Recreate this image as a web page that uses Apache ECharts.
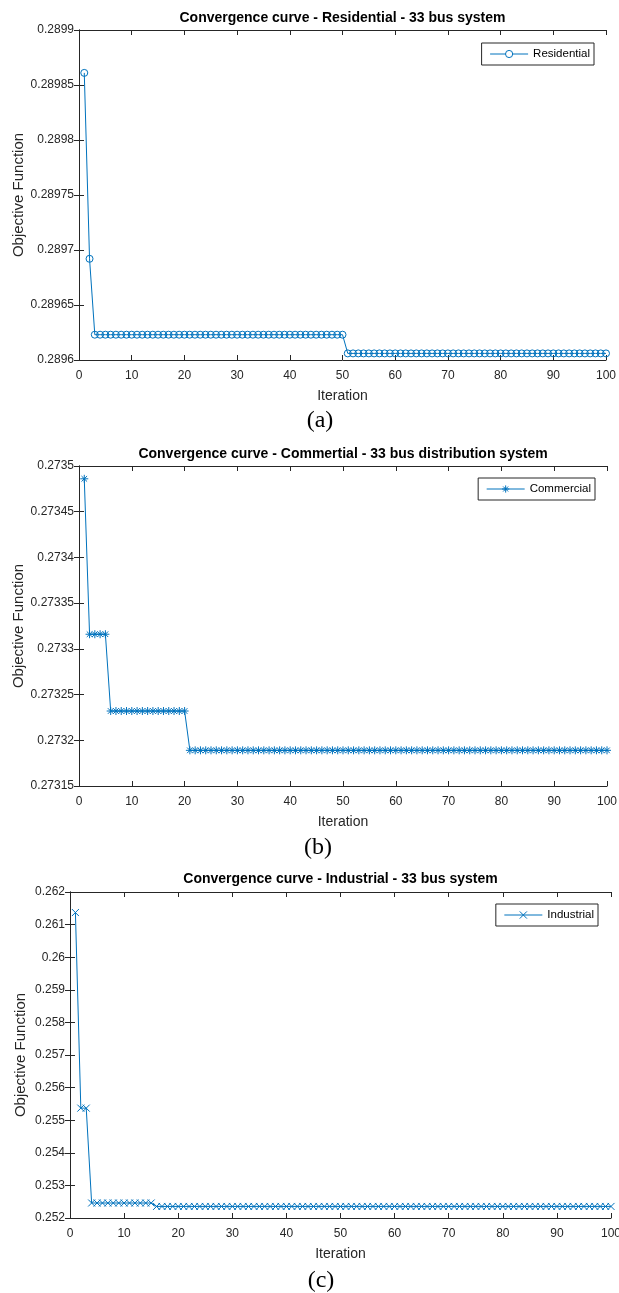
<!DOCTYPE html>
<html lang="en">
<head>
    <meta charset="UTF-8">
    <title>Convergence curves - 33 bus system</title>
    <script src="https://cdn.jsdelivr.net/npm/echarts@6/dist/echarts.min.js"></script>
    <style>
        html, body { margin: 0; padding: 0; background: #fff; }
    </style>
</head>
<body>
<div id="main" style="width: 619px;height: 1293px;"></div>
<script>
    // iteration numbers 1..100
    var iterations = [
        1, 2, 3, 4, 5, 6, 7, 8, 9, 10,
        11, 12, 13, 14, 15, 16, 17, 18, 19, 20,
        21, 22, 23, 24, 25, 26, 27, 28, 29, 30,
        31, 32, 33, 34, 35, 36, 37, 38, 39, 40,
        41, 42, 43, 44, 45, 46, 47, 48, 49, 50,
        51, 52, 53, 54, 55, 56, 57, 58, 59, 60,
        61, 62, 63, 64, 65, 66, 67, 68, 69, 70,
        71, 72, 73, 74, 75, 76, 77, 78, 79, 80,
        81, 82, 83, 84, 85, 86, 87, 88, 89, 90,
        91, 92, 93, 94, 95, 96, 97, 98, 99, 100
    ]

    var residential = [
        0.289861, 0.289692, 0.289623, 0.289623, 0.289623, 0.289623, 0.289623, 0.289623, 0.289623, 0.289623,
        0.289623, 0.289623, 0.289623, 0.289623, 0.289623, 0.289623, 0.289623, 0.289623, 0.289623, 0.289623,
        0.289623, 0.289623, 0.289623, 0.289623, 0.289623, 0.289623, 0.289623, 0.289623, 0.289623, 0.289623,
        0.289623, 0.289623, 0.289623, 0.289623, 0.289623, 0.289623, 0.289623, 0.289623, 0.289623, 0.289623,
        0.289623, 0.289623, 0.289623, 0.289623, 0.289623, 0.289623, 0.289623, 0.289623, 0.289623, 0.289623,
        0.289606, 0.289606, 0.289606, 0.289606, 0.289606, 0.289606, 0.289606, 0.289606, 0.289606, 0.289606,
        0.289606, 0.289606, 0.289606, 0.289606, 0.289606, 0.289606, 0.289606, 0.289606, 0.289606, 0.289606,
        0.289606, 0.289606, 0.289606, 0.289606, 0.289606, 0.289606, 0.289606, 0.289606, 0.289606, 0.289606,
        0.289606, 0.289606, 0.289606, 0.289606, 0.289606, 0.289606, 0.289606, 0.289606, 0.289606, 0.289606,
        0.289606, 0.289606, 0.289606, 0.289606, 0.289606, 0.289606, 0.289606, 0.289606, 0.289606, 0.289606
    ]

    var commercial = [
        0.273486, 0.273316, 0.273316, 0.273316, 0.273316, 0.273232, 0.273232, 0.273232, 0.273232, 0.273232,
        0.273232, 0.273232, 0.273232, 0.273232, 0.273232, 0.273232, 0.273232, 0.273232, 0.273232, 0.273232,
        0.273189, 0.273189, 0.273189, 0.273189, 0.273189, 0.273189, 0.273189, 0.273189, 0.273189, 0.273189,
        0.273189, 0.273189, 0.273189, 0.273189, 0.273189, 0.273189, 0.273189, 0.273189, 0.273189, 0.273189,
        0.273189, 0.273189, 0.273189, 0.273189, 0.273189, 0.273189, 0.273189, 0.273189, 0.273189, 0.273189,
        0.273189, 0.273189, 0.273189, 0.273189, 0.273189, 0.273189, 0.273189, 0.273189, 0.273189, 0.273189,
        0.273189, 0.273189, 0.273189, 0.273189, 0.273189, 0.273189, 0.273189, 0.273189, 0.273189, 0.273189,
        0.273189, 0.273189, 0.273189, 0.273189, 0.273189, 0.273189, 0.273189, 0.273189, 0.273189, 0.273189,
        0.273189, 0.273189, 0.273189, 0.273189, 0.273189, 0.273189, 0.273189, 0.273189, 0.273189, 0.273189,
        0.273189, 0.273189, 0.273189, 0.273189, 0.273189, 0.273189, 0.273189, 0.273189, 0.273189, 0.273189
    ]

    var industrial = [
        0.26137, 0.25537, 0.25537, 0.25246, 0.25246, 0.25246, 0.25246, 0.25246, 0.25246, 0.25246,
        0.25246, 0.25246, 0.25246, 0.25246, 0.25246, 0.252355, 0.252355, 0.252355, 0.252355, 0.252355,
        0.252355, 0.252355, 0.252355, 0.252355, 0.252355, 0.252355, 0.252355, 0.252355, 0.252355, 0.252355,
        0.252355, 0.252355, 0.252355, 0.252355, 0.252355, 0.252355, 0.252355, 0.252355, 0.252355, 0.252355,
        0.252355, 0.252355, 0.252355, 0.252355, 0.252355, 0.252355, 0.252355, 0.252355, 0.252355, 0.252355,
        0.252355, 0.252355, 0.252355, 0.252355, 0.252355, 0.252355, 0.252355, 0.252355, 0.252355, 0.252355,
        0.252355, 0.252355, 0.252355, 0.252355, 0.252355, 0.252355, 0.252355, 0.252355, 0.252355, 0.252355,
        0.252355, 0.252355, 0.252355, 0.252355, 0.252355, 0.252355, 0.252355, 0.252355, 0.252355, 0.252355,
        0.252355, 0.252355, 0.252355, 0.252355, 0.252355, 0.252355, 0.252355, 0.252355, 0.252355, 0.252355,
        0.252355, 0.252355, 0.252355, 0.252355, 0.252355, 0.252355, 0.252355, 0.252355, 0.252355, 0.252355
    ]

    var titles = [
        'Convergence curve - Residential - 33 bus system',
        'Convergence curve - Commertial - 33 bus distribution system',
        'Convergence curve - Industrial - 33 bus system'
    ]
    var names = ['Residential', 'Commercial', 'Industrial']
    var panelLabels = ['(a)', '(b)', '(c)']
    var yMin = [0.2896, 0.27315, 0.252]
    var yMax = [0.2899, 0.2735, 0.262]
    var yStep = [0.00005, 0.00005, 0.001]

    var blue = '#0072BD'
    var axisColor = '#262626'
    var font = 'Arial, "Liberation Sans", Helvetica, sans-serif'

    // MATLAB-like markers: 'o', '*', 'x'
    var symbols = [
        'circle',
        'path://M5,0L5,10M0,5L10,5M1.5,1.5L8.5,8.5M1.5,8.5L8.5,1.5',
        'path://M0,0L10,10M0,10L10,0'
    ]
    var symbolSizes = [7, 8, 7]

    var grids = [
        {left: 79, right: 13, top: 30, height: 330, outerBoundsMode: 'none'},
        {left: 79, right: 12, top: 466, height: 320, outerBoundsMode: 'none'},
        {left: 70, right: 8, top: 892, height: 326, outerBoundsMode: 'none'}
    ]
    var titleTops = [11, 447, 872]
    var labelTops = [409, 836, 1269]
    var labelLefts = [320, 318, 321]
    var legendPos = [
        {right: 25, top: 43},
        {right: 24, top: 478},
        {right: 21, top: 904}
    ]
    var yNameGap = [53, 53, 42]

    function fmt(v) {
        return String(parseFloat(v.toFixed(6)))
    }

    var seriesData = [residential, commercial, industrial]

    var option = {
        animation: false,
        backgroundColor: '#fff',
        title: [],
        legend: [],
        grid: grids,
        xAxis: [],
        yAxis: [],
        series: []
    }

    for (var i = 0; i < 3; i++) {
        var g = grids[i]
        var cx = g.left + (619 - g.left - g.right) / 2
        option.title.push({
            text: titles[i],
            left: cx,
            top: titleTops[i],
            padding: 0,
            textAlign: 'center',
            textStyle: {fontFamily: font, fontSize: 14, fontWeight: 'bold', color: '#000'}
        })
        option.title.push({
            text: panelLabels[i],
            left: labelLefts[i],
            top: labelTops[i],
            padding: 0,
            textAlign: 'center',
            textStyle: {fontFamily: '"Liberation Serif", "Times New Roman", serif', fontSize: 24, fontWeight: 'normal', color: '#000'}
        })
        option.legend.push({
            data: [names[i]],
            right: legendPos[i].right,
            top: legendPos[i].top,
            orient: 'vertical',
            padding: [5, 4, 5, 8],
            borderColor: axisColor,
            borderWidth: 1,
            itemWidth: 38,
            itemHeight: 9,
            itemGap: 5,
            itemStyle: {color: '#fff', borderColor: blue, borderWidth: 1},
            lineStyle: {color: blue, width: 1},
            textStyle: {fontFamily: font, fontSize: 11.5, color: '#000'}
        })

        var xBase = {
            gridIndex: i,
            type: 'value',
            min: 0,
            max: 100,
            interval: 10,
            axisLine: {show: true, lineStyle: {color: axisColor, width: 1}},
            axisTick: {show: true, inside: true, length: 5, lineStyle: {color: axisColor}},
            splitLine: {show: false}
        }
        option.xAxis.push(Object.assign({}, xBase, {
            position: 'bottom',
            name: 'Iteration',
            nameLocation: 'middle',
            nameGap: 29,
            nameMoveOverlap: false,
            nameTextStyle: {fontFamily: font, fontSize: 14, color: axisColor},
            axisLabel: {fontFamily: font, fontSize: 12, color: axisColor, margin: 10}
        }))
        option.xAxis.push(Object.assign({}, xBase, {
            position: 'top',
            axisLabel: {show: false}
        }))

        var yBase = {
            gridIndex: i,
            type: 'value',
            min: yMin[i],
            max: yMax[i],
            interval: yStep[i],
            axisLine: {show: true, lineStyle: {color: axisColor, width: 1}},
            axisTick: {show: true, inside: true, length: 5, lineStyle: {color: axisColor}},
            splitLine: {show: false}
        }
        option.yAxis.push(Object.assign({}, yBase, {
            position: 'left',
            name: 'Objective Function',
            nameLocation: 'middle',
            nameGap: yNameGap[i],
            nameMoveOverlap: false,
            nameTextStyle: {fontFamily: font, fontSize: 15, color: axisColor},
            axisLabel: {fontFamily: font, fontSize: 12, color: axisColor, margin: 5, formatter: fmt}
        }))
        option.yAxis.push(Object.assign({}, yBase, {
            position: 'right',
            axisLabel: {show: false}
        }))

        var pts = []
        for (var k = 0; k < iterations.length; k++) {
            pts.push([iterations[k], seriesData[i][k]])
        }
        option.series.push({
            name: names[i],
            type: 'line',
            xAxisIndex: i * 2,
            yAxisIndex: i * 2,
            data: pts,
            symbol: symbols[i],
            symbolSize: symbolSizes[i],
            showAllSymbol: true,
            lineStyle: {color: blue, width: 1},
            itemStyle: {color: 'rgba(0,0,0,0)', borderColor: blue, borderWidth: 1},
            emphasis: {disabled: true}
        })
    }

    var mCharts = echarts.init(document.getElementById('main'))
    mCharts.setOption(option)
</script>
</body>
</html>
